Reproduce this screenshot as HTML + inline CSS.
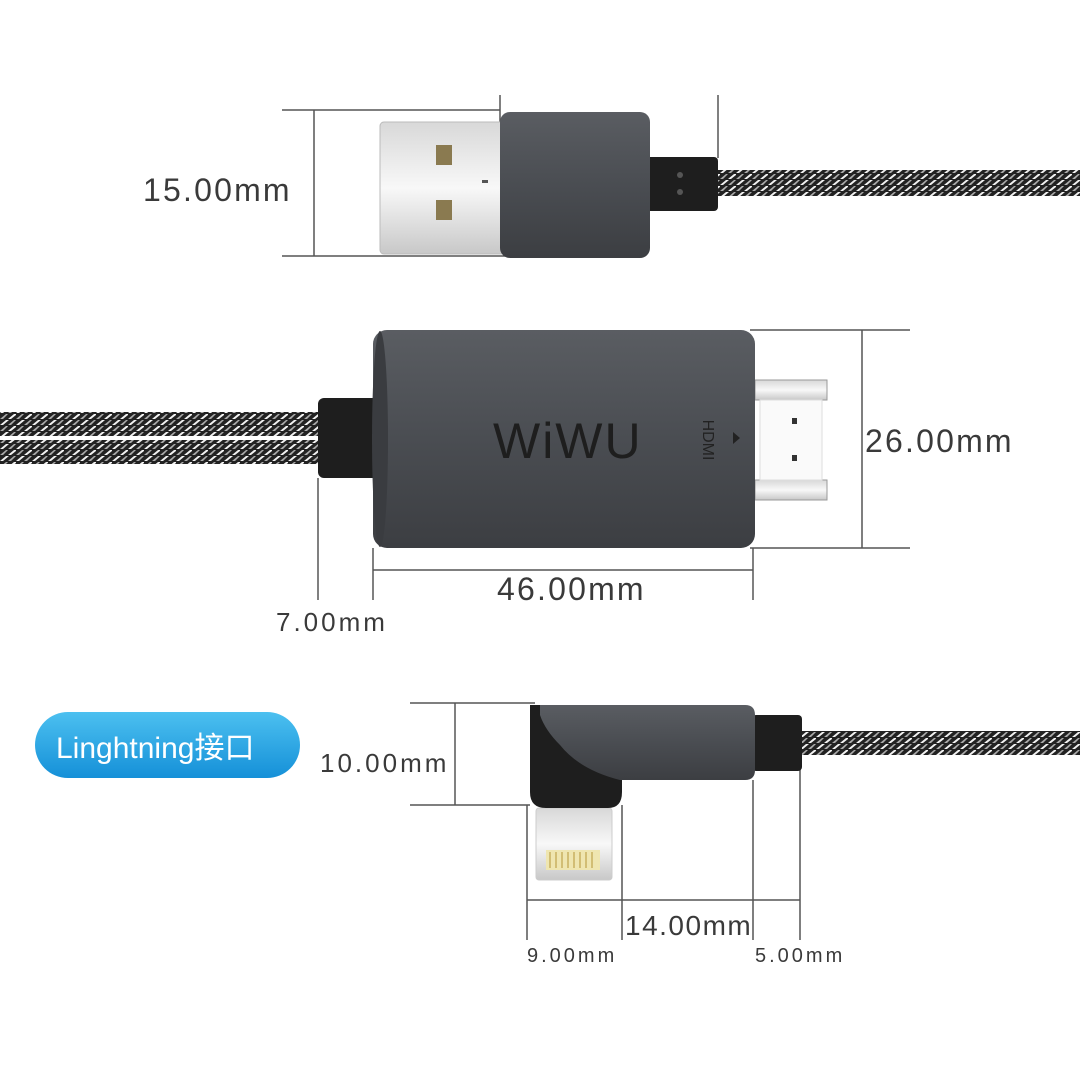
<!DOCTYPE html>
<html><head><meta charset="utf-8"><style>
html,body{margin:0;padding:0;background:#fff;}
svg{display:block;}
text{font-family:"Liberation Sans","Noto Sans CJK SC",sans-serif;fill:#3a3a3a;}
</style></head><body>
<svg width="1080" height="1080" viewBox="0 0 1080 1080" xmlns="http://www.w3.org/2000/svg">
<defs>
<pattern id="braid" width="16" height="12" patternUnits="userSpaceOnUse">
<rect width="16" height="12" fill="#222"/>
<path d="M0 5 L6 0 L9 0 L3 5 Z M8 11 L14 6 L16 6 L16 7 L11 11Z" fill="#f2f2f2"/>
<path d="M8 5 L14 0 L16 0 L11 5Z M0 11 L6 6 L8 6 L3 11Z" fill="#aaa"/>
</pattern>
<linearGradient id="body" x1="0" y1="0" x2="0" y2="1">
<stop offset="0" stop-color="#5a5d62"/><stop offset="0.5" stop-color="#4a4d52"/><stop offset="1" stop-color="#3c3e42"/>
</linearGradient>
<linearGradient id="metal" x1="0" y1="0" x2="0" y2="1">
<stop offset="0" stop-color="#d8d8d8"/><stop offset="0.5" stop-color="#f8f8f8"/><stop offset="1" stop-color="#c8c8c8"/>
</linearGradient>
<linearGradient id="blue" x1="0" y1="0" x2="0" y2="1">
<stop offset="0" stop-color="#4cc0f0"/><stop offset="1" stop-color="#1590d8"/>
</linearGradient>
</defs>
<g stroke="#555" stroke-width="1.5" fill="none">
<line x1="282" y1="110" x2="500" y2="110"/><line x1="282" y1="256" x2="510" y2="256"/>
<line x1="314" y1="110" x2="314" y2="256"/>
<line x1="500" y1="95" x2="500" y2="122"/><line x1="718" y1="95" x2="718" y2="158"/>
<line x1="750" y1="330" x2="910" y2="330"/><line x1="750" y1="548" x2="910" y2="548"/>
<line x1="862" y1="330" x2="862" y2="548"/>
<line x1="318" y1="478" x2="318" y2="600"/><line x1="373" y1="548" x2="373" y2="600"/>
<line x1="753" y1="548" x2="753" y2="600"/><line x1="373" y1="570" x2="753" y2="570"/>
<line x1="410" y1="703" x2="535" y2="703"/><line x1="410" y1="805" x2="530" y2="805"/>
<line x1="455" y1="703" x2="455" y2="805"/>
<line x1="527" y1="805" x2="527" y2="940"/><line x1="622" y1="805" x2="622" y2="940"/>
<line x1="753" y1="780" x2="753" y2="940"/><line x1="800" y1="770" x2="800" y2="940"/>
<line x1="527" y1="900" x2="800" y2="900"/>
</g>
<!-- USB -->
<rect x="718" y="170" width="362" height="26" fill="url(#braid)"/>
<rect x="380" y="122" width="130" height="132" rx="4" fill="url(#metal)" stroke="#bbb"/>
<rect x="436" y="145" width="16" height="20" fill="#8a7a50"/><rect x="436" y="200" width="16" height="20" fill="#8a7a50"/>
<rect x="482" y="180" width="6" height="3" fill="#555"/>
<rect x="640" y="157" width="78" height="54" rx="4" fill="#1e1e1e"/>
<circle cx="680" cy="175" r="3" fill="#555"/><circle cx="680" cy="192" r="3" fill="#555"/>
<rect x="500" y="112" width="150" height="146" rx="10" fill="url(#body)"/>
<text x="143" y="201" font-size="32" letter-spacing="2.2">15.00mm</text>
<!-- HDMI -->
<rect x="0" y="412" width="325" height="24" fill="url(#braid)"/>
<rect x="0" y="440" width="325" height="24" fill="url(#braid)"/>
<rect x="755" y="380" width="72" height="20" fill="url(#metal)" stroke="#999"/>
<rect x="755" y="480" width="72" height="20" fill="url(#metal)" stroke="#999"/>
<rect x="760" y="400" width="62" height="80" fill="#fafafa" stroke="#ddd"/>
<rect x="792" y="418" width="5" height="6" fill="#333"/><rect x="792" y="455" width="5" height="6" fill="#333"/>
<rect x="318" y="398" width="64" height="80" rx="6" fill="#1e1e1e"/>
<rect x="373" y="330" width="382" height="218" rx="14" fill="url(#body)"/>
<ellipse cx="380" cy="439" rx="8" ry="108" fill="#3a3c40"/>
<text x="493" y="458" font-size="50" letter-spacing="2" style="fill:#1e1e1e">WiWU</text>
<text transform="translate(703,440) rotate(90)" font-size="16" text-anchor="middle" style="fill:#222">HDMI</text>
<path d="M733 432 L740 438 L733 444Z" fill="#222"/>
<text x="865" y="452" font-size="32" letter-spacing="2.2">26.00mm</text>
<text x="497" y="600" font-size="32" letter-spacing="2.2">46.00mm</text>
<text x="276" y="631" font-size="26" letter-spacing="3">7.00mm</text>
<!-- Lightning -->
<rect x="35" y="712" width="265" height="66" rx="33" fill="url(#blue)"/>
<text x="56" y="758" font-size="30" style="fill:#fff">Linghtning接口</text>
<rect x="800" y="731" width="280" height="24" fill="url(#braid)"/>
<rect x="752" y="715" width="50" height="56" rx="4" fill="#1e1e1e"/>
<rect x="536" y="808" width="76" height="72" rx="3" fill="url(#metal)" stroke="#ccc"/>
<rect x="546" y="850" width="54" height="20" fill="#efe6b0"/>
<g stroke="#c8b060" stroke-width="1.5"><line x1="550" y1="852" x2="550" y2="868"/><line x1="556" y1="852" x2="556" y2="868"/><line x1="562" y1="852" x2="562" y2="868"/><line x1="568" y1="852" x2="568" y2="868"/><line x1="574" y1="852" x2="574" y2="868"/><line x1="580" y1="852" x2="580" y2="868"/><line x1="586" y1="852" x2="586" y2="868"/><line x1="592" y1="852" x2="592" y2="868"/></g>
<path d="M530 705 L530 792 Q530 808 546 808 L608 808 Q622 808 622 792 L622 770 L622 705Z" fill="#1e1e1e"/>
<path d="M540 705 L745 705 Q755 705 755 715 L755 770 Q755 780 745 780 L620 780 Q580 770 560 745 Q545 730 540 715 Z" fill="url(#body)"/>
<text x="320" y="772" font-size="26" letter-spacing="3">10.00mm</text>
<text x="625" y="935" font-size="28" letter-spacing="1.5">14.00mm</text>
<text x="527" y="962" font-size="20" letter-spacing="3">9.00mm</text>
<text x="755" y="962" font-size="20" letter-spacing="3">5.00mm</text>
</svg>
</body></html>
